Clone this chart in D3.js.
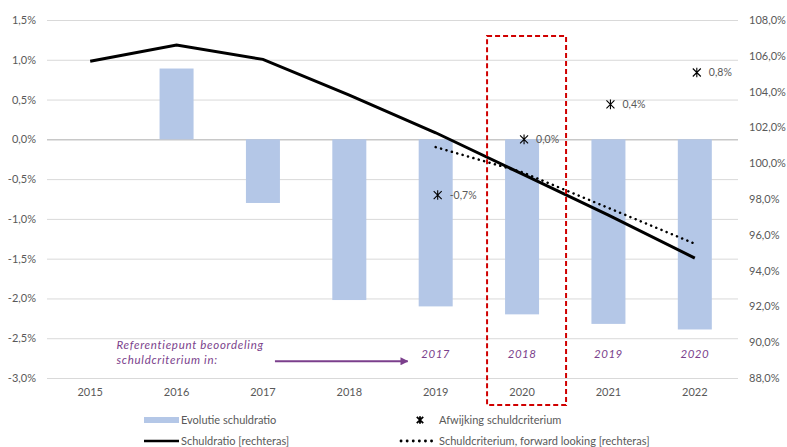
<!DOCTYPE html>
<html>
<head>
  <meta charset="utf-8">
  <title>Schuldratio</title>
  <script src="https://cdn.jsdelivr.net/npm/d3@7"></script>
  <style>
    body { margin: 0; background: #fff; }
    text { font-family: Lato, "Open Sans", sans-serif; }
  </style>
</head>
<body>
<script>
// data
var years = ["2015", "2016", "2017", "2018", "2019", "2020", "2021", "2022"];
var evolutie = [null, 0.89, -0.8, -2.02, -2.1, -2.2, -2.32, -2.39];       // linkeras, %
var schuldratio = [105.7, 106.6, 105.8, 103.8, 101.7, 99.4, 97.1, 94.7];  // rechteras, %
var criteriumYears = ["2019", "2020", "2021", "2022"];
var criterium = [100.9, 99.5, 97.5, 95.5];                                // rechteras, %
var afwijking = [-0.7, 0.0, 0.44, 0.84];                                  // linkeras, %
var afwijkingLabels = ["-0,7%", "0,0%", "0,4%", "0,8%"];
var referentieYears = ["2017", "2018", "2019", "2020"];
var leftTicks = [1.5, 1.0, 0.5, 0.0, -0.5, -1.0, -1.5, -2.0, -2.5, -3.0];
var rightTicks = [108, 106, 104, 102, 100, 98, 96, 94, 92, 90, 88];

var W = 787, H = 447;
var margin = { top: 20, right: 49, bottom: 69, left: 47 };
var width = W - margin.left - margin.right,
    height = H - margin.top - margin.bottom;

var grey = "#595959", purple = "#7b3f8c";
var fmt = function(d, n) { return d.toFixed(n).replace(".", ",") + "%"; };

var svg = d3.select("body").append("svg")
    .attr("width", W).attr("height", H);
var g = svg.append("g")
    .attr("transform", "translate(" + margin.left + "," + margin.top + ")");

var x = d3.scaleBand().domain(years).range([0, width]);
var yL = d3.scaleLinear().domain([-3, 1.5]).range([height, 0]);
var yR = d3.scaleLinear().domain([88, 108]).range([height, 0]);
var cx = function(y) { return x(y) + x.bandwidth() / 2; };

// gridlines + left axis
var la = g.append("g").call(d3.axisLeft(yL).tickValues(leftTicks)
    .tickSize(-width).tickFormat(function(d) { return fmt(d, 1); }));
la.select(".domain").remove();
la.selectAll(".tick line").attr("stroke", function(d) { return d === 0 ? "#c8c8c8" : "#d9d9d9"; })
    .attr("stroke-width", function(d) { return d === 0 ? 1.5 : 1; });
la.selectAll(".tick text").attr("x", -11).attr("fill", grey).style("font-size", "11px");

// right axis
var ra = g.append("g").attr("transform", "translate(" + width + ",0)")
    .call(d3.axisRight(yR).tickValues(rightTicks).tickSize(0)
    .tickFormat(function(d) { return fmt(d, 1); }));
ra.select(".domain").remove();
ra.selectAll(".tick text").attr("x", 11).attr("fill", grey).style("font-size", "11px");

// x labels
g.selectAll(".xl").data(years).enter().append("text")
    .attr("x", cx).attr("y", height + 18)
    .attr("text-anchor", "middle").attr("fill", grey).style("font-size", "11px")
    .text(function(d) { return d; });

// bars
var barW = 34;
g.selectAll(".bar").data(years.map(function(y, i) { return { y: y, v: evolutie[i] }; })
    .filter(function(d) { return d.v !== null; }))
  .enter().append("rect")
    .attr("x", function(d) { return cx(d.y) - barW / 2; })
    .attr("y", function(d) { return yL(Math.max(0, d.v)); })
    .attr("width", barW)
    .attr("height", function(d) { return Math.abs(yL(d.v) - yL(0)); })
    .attr("fill", "#b4c7e7");

// schuldratio line
g.append("path")
    .datum(schuldratio)
    .attr("d", d3.line().x(function(d, i) { return cx(years[i]); }).y(function(d) { return yR(d); }))
    .attr("fill", "none").attr("stroke", "#000").attr("stroke-width", 3);

// schuldcriterium forward looking
g.append("path")
    .datum(criterium)
    .attr("d", d3.line().x(function(d, i) { return cx(criteriumYears[i]); }).y(function(d) { return yR(d); }))
    .attr("fill", "none").attr("stroke", "#000").attr("stroke-width", 2.5)
    .attr("stroke-dasharray", "0.1,5.5").attr("stroke-linecap", "round");

// afwijking markers
function star(s) {
  return "M" + (-s) + "," + (-s) + "L" + s + "," + s +
         "M" + s + "," + (-s) + "L" + (-s) + "," + s +
         "M0," + (-s * 1.2) + "L0," + (s * 1.2);
}
var mk = g.selectAll(".mk").data(criteriumYears).enter().append("g")
    .attr("transform", function(d, i) { return "translate(" + (cx(d) + 2) + "," + yL(afwijking[i]) + ")"; });
mk.append("path").attr("d", star(4)).attr("stroke", "#000").attr("stroke-width", 1.1).attr("fill", "none");
mk.append("text").attr("x", 12).attr("dy", "0.35em")
    .attr("fill", grey).style("font-size", "10.5px")
    .text(function(d, i) { return afwijkingLabels[i]; });

// red box around 2020
g.append("rect")
    .attr("x", cx("2020") - 35).attr("width", 79)
    .attr("y", yL(1.3)).attr("height", yL(-3.34) - yL(1.3))
    .attr("fill", "none").attr("stroke", "#d00000").attr("stroke-width", 2)
    .attr("stroke-dasharray", "5,3");

// referentiepunt annotation
var ann = g.append("text").attr("fill", purple).style("font-size", "11.5px")
    .style("font-style", "italic").style("letter-spacing", "0.7px");
ann.append("tspan").attr("x", cx("2016") - 60).attr("y", yL(-2.63)).text("Referentiepunt beoordeling");
ann.append("tspan").attr("x", cx("2016") - 60).attr("y", yL(-2.82)).text("schuldcriterium in:");

svg.append("defs").append("marker").attr("id", "arr")
    .attr("viewBox", "0 0 10 10").attr("refX", 9).attr("refY", 5)
    .attr("markerWidth", 8).attr("markerHeight", 8).attr("markerUnits", "userSpaceOnUse")
    .attr("orient", "auto")
  .append("path").attr("d", "M0,0L10,5L0,10z").attr("fill", purple);
g.append("line")
    .attr("x1", cx("2017") + 12).attr("x2", cx("2019") - 28)
    .attr("y1", yL(-2.79)).attr("y2", yL(-2.79))
    .attr("stroke", purple).attr("stroke-width", 2).attr("marker-end", "url(#arr)");

g.selectAll(".ref").data(referentieYears).enter().append("text")
    .attr("x", function(d, i) { return cx(criteriumYears[i]); }).attr("y", yL(-2.75))
    .attr("text-anchor", "middle").attr("fill", purple).style("font-size", "11.5px")
    .style("font-style", "italic").style("letter-spacing", "0.5px")
    .text(function(d) { return d; });

// legend
var lg = svg.append("g").style("font-size", "11px");
lg.append("rect").attr("x", 144).attr("y", 417).attr("width", 35).attr("height", 6).attr("fill", "#b4c7e7");
lg.append("text").attr("x", 181).attr("y", 424).attr("fill", grey).text("Evolutie schuldratio");
lg.append("path").attr("d", star(3.2)).attr("transform", "translate(420,420)")
    .attr("stroke", "#000").attr("stroke-width", 1.8).attr("fill", "none");
lg.append("text").attr("x", 439).attr("y", 424).attr("fill", grey).text("Afwijking schuldcriterium");
lg.append("line").attr("x1", 144).attr("x2", 179).attr("y1", 441).attr("y2", 441)
    .attr("stroke", "#000").attr("stroke-width", 2.5);
lg.append("text").attr("x", 181).attr("y", 445).attr("fill", grey).text("Schuldratio [rechteras]");
lg.append("line").attr("x1", 401).attr("x2", 434).attr("y1", 441).attr("y2", 441)
    .attr("stroke", "#000").attr("stroke-width", 2.8)
    .attr("stroke-dasharray", "0.1,6").attr("stroke-linecap", "round");
lg.append("text").attr("x", 439).attr("y", 445).attr("fill", grey).text("Schuldcriterium, forward looking [rechteras]");
</script>
</body>
</html>
